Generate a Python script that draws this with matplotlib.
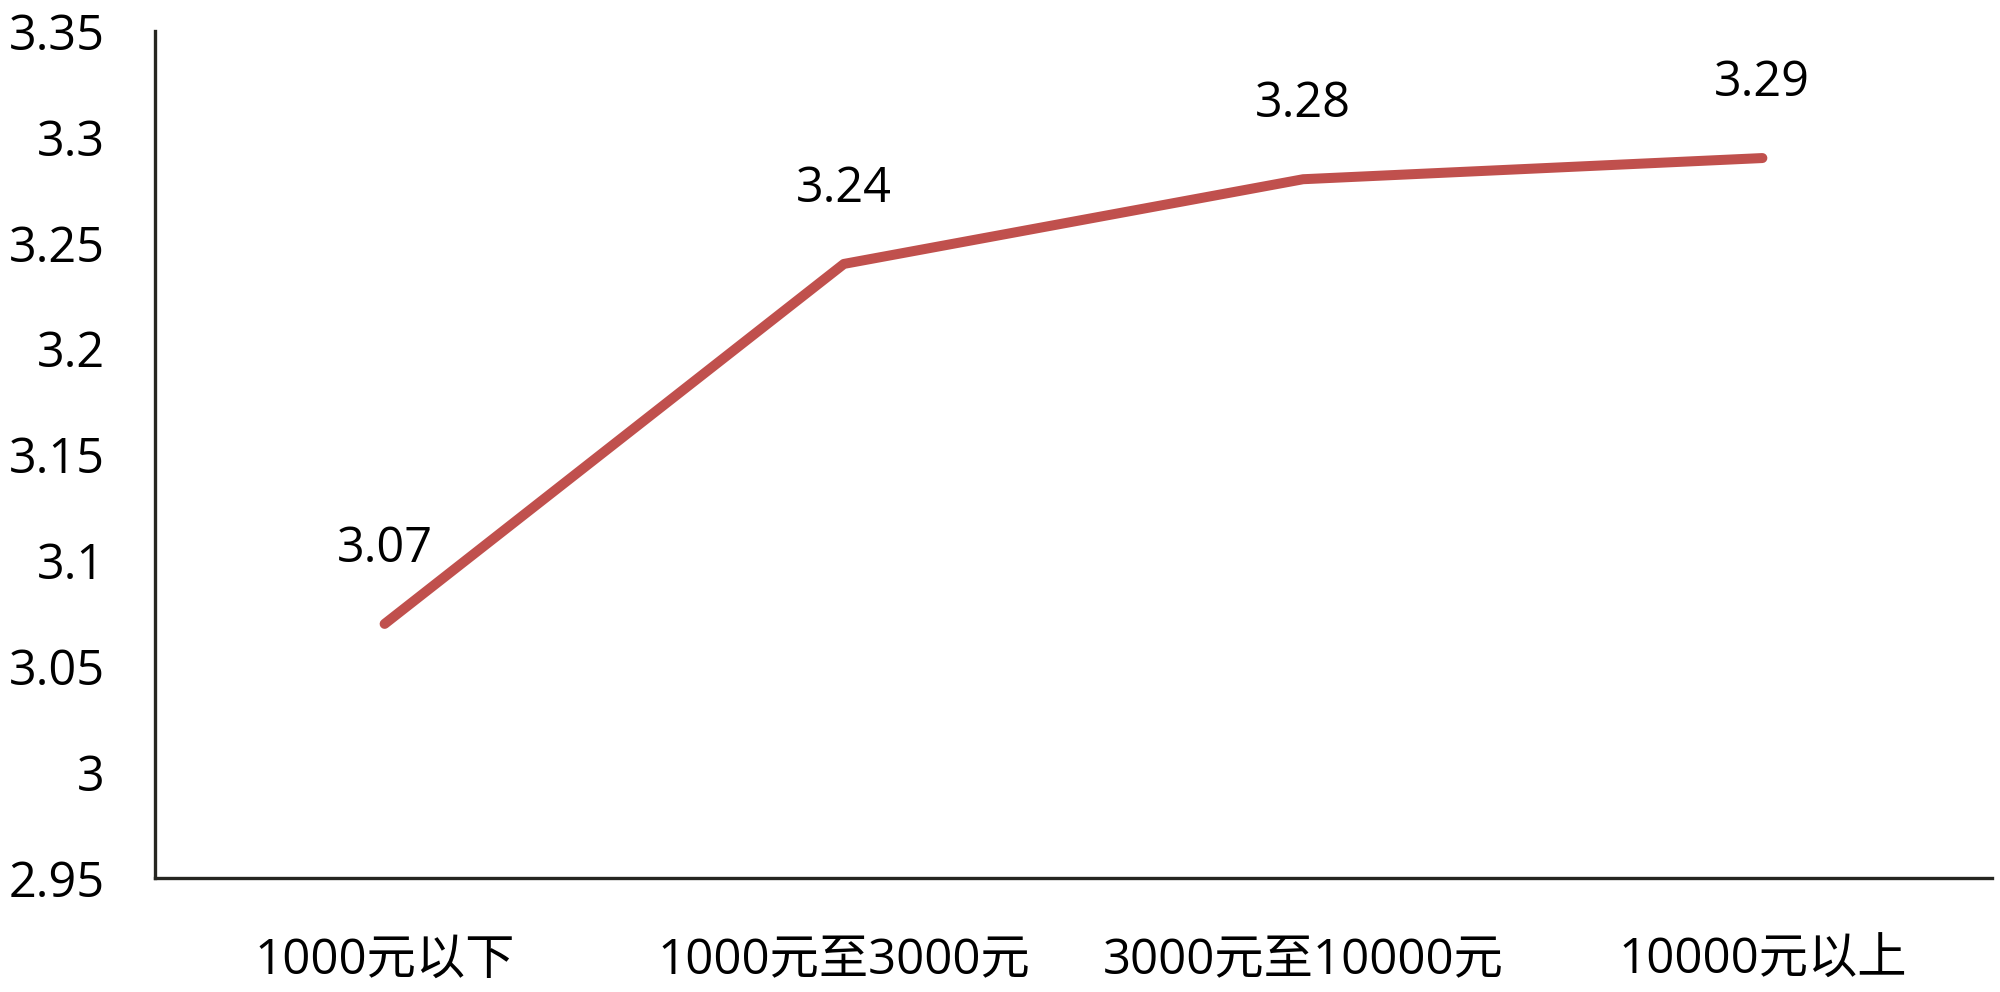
import matplotlib
matplotlib.use("Agg")
import matplotlib.pyplot as plt

# データ
categories = ["1000元以下", "1000元至3000元", "3000元至10000元", "10000元以上"]
values = [3.07, 3.24, 3.28, 3.29]
y_ticks = [2.95, 3.0, 3.05, 3.1, 3.15, 3.2, 3.25, 3.3, 3.35]
y_tick_labels = ["2.95", "3", "3.05", "3.1", "3.15", "3.2", "3.25", "3.3", "3.35"]

plt.rcParams['font.family'] = ['Open Sans', 'Noto Sans CJK SC', 'DejaVu Sans']

fig = plt.figure(figsize=(20, 9.92), dpi=100)
ax = fig.add_axes([155 / 2000, 1 - 878 / 992, (1992 - 155) / 2000, (878 - 31) / 992])

x = list(range(len(categories)))
ax.plot(x, values, color="#C0504D", linewidth=7.2, solid_capstyle="round", solid_joinstyle="round")

# データラベル
for xi, v in zip(x, values):
    ax.annotate(f"{v:.2f}", (xi, v), xytext=(0, 50), textcoords="offset pixels",
                ha="center", va="bottom", fontsize=35, color="black")

ax.set_xlim(-0.5, len(categories) - 0.5)
ax.set_ylim(2.95, 3.35)
ax.set_xticks(x)
ax.set_xticklabels(categories, fontsize=35.5)
ax.set_yticks(y_ticks)
ax.set_yticklabels(y_tick_labels, fontsize=35)
ax.tick_params(axis="both", length=0)
ax.tick_params(axis="y", pad=36)
ax.tick_params(axis="x", pad=42)

for side in ["top", "right"]:
    ax.spines[side].set_visible(False)
for side in ["left", "bottom"]:
    ax.spines[side].set_color("#262621")
    ax.spines[side].set_linewidth(2.4)

fig.savefig("out.png", dpi=100)
